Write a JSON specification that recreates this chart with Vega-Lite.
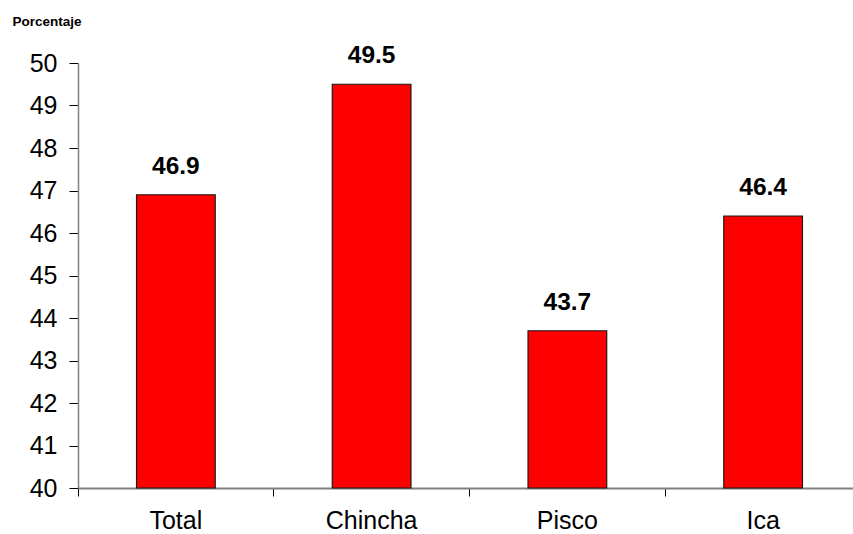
{
  "$schema": "https://vega.github.io/schema/vega-lite/v6.json",
  "autosize": "none",
  "width": 775,
  "height": 425,
  "padding": {"left": 78, "top": 63, "right": 0, "bottom": 46},
  "background": "white",
  "config": {
    "view": {"stroke": null},
    "font": "Liberation Sans"
  },
  "data": {
    "values": [
      {"zona": "Total", "porcentaje": 46.9},
      {"zona": "Chincha", "porcentaje": 49.5},
      {"zona": "Pisco", "porcentaje": 43.7},
      {"zona": "Ica", "porcentaje": 46.4}
    ]
  },
  "encoding": {
    "x": {
      "field": "zona",
      "type": "nominal",
      "sort": null,
      "scale": {"paddingInner": 0, "paddingOuter": 0, "range": [0, 783]},
      "axis": {
        "title": null,
        "labelAngle": 0,
        "labelFont": "Liberation Sans",
        "labelFontSize": 25,
        "labelColor": "#000000",
        "labelPadding": 12,
        "labelBaseline": "top",
        "bandPosition": 0,
        "tickSize": 8,
        "tickColor": "#000000",
        "tickWidth": 1,
        "domainColor": "#808080",
        "domainWidth": 2,
        "grid": false
      }
    },
    "y": {
      "field": "porcentaje",
      "type": "quantitative",
      "scale": {"domain": [40, 50], "zero": false, "nice": false},
      "axis": {
        "values": [40, 41, 42, 43, 44, 45, 46, 47, 48, 49, 50],
        "title": "Porcentaje",
        "titleAngle": 0,
        "titleX": -66,
        "titleY": -38,
        "titleAlign": "left",
        "titleBaseline": "alphabetic",
        "titleFont": "Liberation Sans",
        "titleFontSize": 13.5,
        "titleFontWeight": "bold",
        "titleColor": "#000000",
        "labelFont": "Liberation Sans",
        "labelFontSize": 25,
        "labelColor": "#000000",
        "labelPadding": 12,
        "tickSize": 9,
        "tickColor": "#000000",
        "domainColor": "#808080",
        "domainWidth": 1.5,
        "grid": false
      }
    }
  },
  "layer": [
    {
      "mark": {
        "type": "bar",
        "width": {"band": 0.402},
        "color": "#FF0000",
        "stroke": "#1a1a1a",
        "strokeWidth": 1.2
      },
      "encoding": {
        "y2": {"datum": 40}
      }
    },
    {
      "mark": {
        "type": "text",
        "font": "Liberation Sans",
        "fontSize": 24.5,
        "fontWeight": "bold",
        "color": "#000000",
        "baseline": "alphabetic",
        "dy": -21
      },
      "encoding": {
        "text": {"field": "porcentaje", "type": "quantitative", "format": ".1f"}
      }
    }
  ]
}
